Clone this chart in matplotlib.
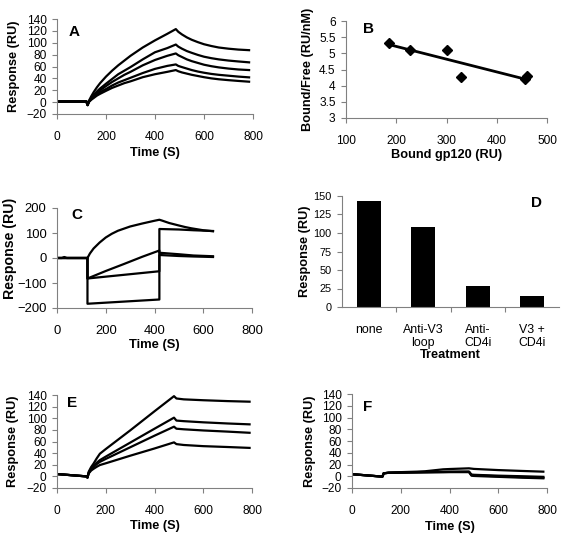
import numpy as np
import matplotlib
matplotlib.use("Agg")
import matplotlib.pyplot as plt

plt.rcParams['font.family'] = ['Liberation Sans', 'DejaVu Sans']

# ---------------- Panel A data ----------------
A_t = [0, 60, 120, 125, 130, 140, 150, 163, 176, 200, 225, 250, 275, 300, 350,
       400, 450, 485, 495, 510, 530, 550, 575, 600, 630, 660, 700, 740, 784]
A_1 = [1, 1, 1, -5, 2, 10, 17, 25, 32, 43, 53, 62, 70, 78, 92,
       104, 115, 123, 118.5, 114, 109, 105, 101, 97.5, 94.5, 92, 90, 88.5, 87.5]
A_2 = [1, 1, 1, -5, 1, 7, 12, 18, 23, 31, 39, 47, 53, 59, 72,
       84, 91, 97, 93.5, 90, 86, 83, 79.5, 76.5, 74, 72, 70, 68.5, 67]
A_3 = [1, 1, 1, -5, 1, 6, 10, 15, 20, 27, 34, 40, 46, 51, 62,
       71, 78, 82, 79, 76, 72, 69, 66, 63, 60.5, 58.5, 56.5, 55, 54]
A_4 = [1, 1, 1, -5, 1, 5, 9, 13, 17, 22, 28, 33, 37, 41, 49,
       56, 61, 63.5, 61, 59, 56.5, 54, 51.5, 49.5, 47.5, 46, 44.5, 43, 41.7]
A_5 = [1, 1, 1, -5, 0, 4, 7, 11, 14, 19, 24, 28, 32, 35, 42,
       47, 51, 54, 52, 50, 48, 46, 44, 42, 40, 38.5, 37, 35.7, 34.4]

# ---------------- Panel B data ----------------
B_bound = [185, 228, 300, 329, 457, 460]
B_ratio = [5.33, 5.09, 5.09, 4.28, 4.21, 4.29]

# ---------------- Panel C data ----------------
C1_t = [0, 20, 30, 40, 120, 125, 135, 150, 175, 200, 225, 250, 300, 350, 400, 420,
        430, 445, 460, 480, 500, 525, 550, 600, 640]
C1_v = [0, 0, 4, 0, 0, 0, 18, 38, 62, 82, 97, 109, 126, 138, 149, 153,
        150, 145, 140, 135, 130, 124, 119, 111, 107]
C2_t = [0, 120, 125, 125, 200, 272, 350, 420, 420, 500, 560, 640]
C2_v = [0, 0, 0, -82, -52, -25, 5, 30, 21, 15, 10, 7]
C3_t = [0, 120, 125, 125, 420, 420, 500, 560, 640]
C3_v = [0, 0, 0, -82, -53, 12, 8, 6, 4]
C4_t = [0, 120, 125, 125, 420, 420, 500, 560, 640]
C4_v = [0, 0, 0, -183, -166, 116, 114, 111, 108]

# ---------------- Panel D data ----------------
D_cat = ['none', 'Anti-V3\nloop', 'Anti-\nCD4i', 'V3 +\nCD4i']
D_val = [143.5, 108.5, 28.4, 15.3]

# ---------------- Panel E data ----------------
E_t = [0, 60, 120, 125, 130, 140, 150, 163, 176, 200, 300, 400, 480, 490, 520, 600, 700, 790]
E_1 = [4, 2, 0, -2, 8, 16, 22, 31, 39, 47, 79, 112, 138, 134, 132.5, 131, 129.5, 128.5]
E_2 = [4, 2, 0, -2, 6, 13, 18, 23.5, 28, 34, 58, 82, 101, 96, 95, 93, 91, 89.5]
E_3 = [4, 2, 0, -2, 6, 12, 16, 21, 25, 30, 50, 70, 85.5, 82, 81, 79, 77, 75]
E_4 = [4, 2, 0, -2, 5, 10, 13, 16.5, 19.5, 22.5, 35.5, 48, 58.5, 55.5, 54, 52, 50.5, 49]

# ---------------- Panel F data ----------------
F_t = [0, 60, 120, 125, 130, 150, 200, 265, 300, 374, 400, 480, 490, 500, 600, 700, 785]
F_1 = [3.5, 1.5, -0.5, -0.5, 5, 6, 7, 7.8, 8.5, 11.8, 12.3, 13.5, 13, 12.5, 10.5, 9, 7.8]
F_2 = [3.5, 1.5, -0.5, -0.5, 5, 6, 6.5, 7, 7.2, 7.6, 7.8, 8, 3, 2.5, 1, 0, -1]
F_3 = [3.5, 1.5, -0.5, -0.5, 5, 6, 6.3, 6.7, 6.9, 7.2, 7.4, 7.5, 2, 1.5, 0, -1.5, -2.5]
F_4 = [3.5, 1.5, -0.5, -0.5, 5, 5.8, 6, 6.4, 6.6, 6.9, 7, 7, 1, 0.5, -1, -2.5, -3.5]

W, H = 564, 539
fig = plt.figure(figsize=(W / 100, H / 100), dpi=100)


def add_ax(left, right, top, bottom):
    return fig.add_axes([left / W, 1 - bottom / H, (right - left) / W, (bottom - top) / H])


SPINE = '#808080'
LW = 1.6


def style(ax, tick_fs=8.6):
    for s in ['top', 'right']:
        ax.spines[s].set_visible(False)
    for s in ['left', 'bottom']:
        ax.spines[s].set_color(SPINE)
        ax.spines[s].set_linewidth(0.8)
    ax.tick_params(axis='both', which='both', direction='out', length=3.5,
                   width=0.8, color=SPINE, labelsize=tick_fs, labelcolor='black')
    ax.tick_params(axis='x', pad=9)
    ax.tick_params(axis='y', pad=4)


def labels(ax, xl, yl, xpos, ypos, fs=9.2, yfs=None, ycenter=0.5):
    ax.set_xlabel(xl, fontsize=fs, fontweight='bold')
    ax.set_ylabel(yl, fontsize=yfs or fs, fontweight='bold')
    ax.xaxis.label.set_va('center')
    ax.yaxis.label.set_va('center')
    ax.xaxis.set_label_coords(0.5, xpos)
    ax.yaxis.set_label_coords(ypos, ycenter)


def letter(ax, s, x, y):
    ax.text(x, y, s, transform=ax.transAxes, fontsize=11, fontweight='bold',
            ha='center', va='center')


time_ticks = [0, 200, 400, 600, 800]

# ---- A ----
axA = add_ax(57, 253, 19, 114)
for v in [A_1, A_2, A_3, A_4, A_5]:
    axA.plot(A_t, v, color='black', lw=LW)
axA.set_xlim(0, 800)
axA.set_ylim(-20, 140)
axA.set_xticks(time_ticks)
axA.set_yticks(range(-20, 141, 20))
style(axA)
labels(axA, 'Time (S)', 'Response (RU)', -0.41, -0.219)
letter(axA, 'A', (74 - 57) / 196, 1 - (32 - 19) / 95)

# ---- B ----
axB = add_ax(346, 547, 21, 118)
axB.plot(B_bound, B_ratio, linestyle='none', marker='D', markersize=4.6,
         color='black')
coef = np.polyfit(B_bound, B_ratio, 1)
fx = np.array([min(B_bound), max(B_bound)])
axB.plot(fx, np.polyval(coef, fx), color='black', lw=2.0)
axB.set_xlim(100, 500)
axB.set_ylim(3, 6)
axB.set_xticks([100, 200, 300, 400, 500])
axB.set_yticks([3, 3.5, 4, 4.5, 5, 5.5, 6])
axB.set_yticklabels(['3', '3.5', '4', '4.5', '5', '5.5', '6'])
style(axB)
labels(axB, 'Bound gp120 (RU)', 'Bound/Free (RU/nM)', (118 - 155) / 97, (308 - 346) / 201)
letter(axB, 'B', (368 - 346) / 201, 1 - (29 - 21) / 97)

# ---- C ----
axC = add_ax(57, 252, 208, 308)
for t, v in [(C1_t, C1_v), (C2_t, C2_v), (C3_t, C3_v), (C4_t, C4_v)]:
    axC.plot(t, v, color='black', lw=LW)
axC.set_xlim(0, 800)
axC.set_ylim(-200, 200)
axC.set_xticks(time_ticks)
axC.set_yticks([-200, -100, 0, 100, 200])
style(axC, tick_fs=9.4)
labels(axC, 'Time (S)', 'Response (RU)', (308 - 345) / 100, (10 - 57) / 195,
       fs=9.4, yfs=10.2, ycenter=0.6)
letter(axC, 'C', (77 - 57) / 195, 1 - (215 - 208) / 100)

# ---- D ----
axD = add_ax(342, 559, 196, 307)
xs = np.arange(len(D_cat))
axD.bar(xs, D_val, width=0.44, color='black')
axD.set_xlim(-0.5, len(D_cat) - 0.5)
axD.set_ylim(0, 150)
axD.set_yticks(range(0, 151, 25))
axD.set_xticks(xs)
axD.set_xticklabels(D_cat, fontsize=8.9, linespacing=1.15)
axD.set_xticks(np.arange(0.5, len(D_cat) - 0.5, 1.0), minor=True)
style(axD, tick_fs=7.8)
axD.tick_params(axis='x', which='major', length=0, labelsize=8.9, pad=12)
axD.tick_params(axis='x', which='minor', length=3.5)
labels(axD, 'Treatment', 'Response (RU)', (307 - 355) / 111, (305 - 342) / 217)
letter(axD, 'D', (537 - 342) / 217, 1 - (203 - 196) / 111)

# ---- E ----
axE = add_ax(57, 252, 395, 488)
for v in [E_1, E_2, E_3, E_4]:
    axE.plot(E_t, v, color='black', lw=LW)
axE.set_xlim(0, 800)
axE.set_ylim(-20, 140)
axE.set_xticks(time_ticks)
axE.set_yticks(range(-20, 141, 20))
style(axE)
labels(axE, 'Time (S)', 'Response (RU)', (488 - 526) / 93, (13 - 57) / 195)
letter(axE, 'E', (72 - 57) / 195, 1 - (403 - 395) / 93)

# ---- F ----
axF = add_ax(352, 547, 394, 488)
for v in [F_1, F_2, F_3, F_4]:
    axF.plot(F_t, v, color='black', lw=LW)
axF.set_xlim(0, 800)
axF.set_ylim(-20, 140)
axF.set_xticks(time_ticks)
axF.set_yticks(range(-20, 141, 20))
style(axF)
labels(axF, 'Time (S)', 'Response (RU)', (488 - 527) / 94, (310 - 352) / 195)
letter(axF, 'F', (368 - 352) / 195, 1 - (407 - 394) / 94)

fig.savefig('out.png', dpi=100)
